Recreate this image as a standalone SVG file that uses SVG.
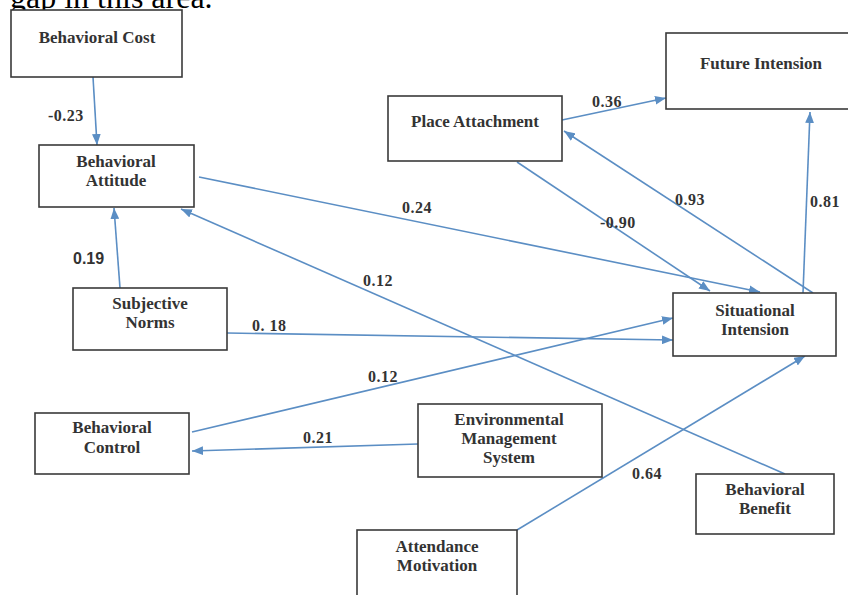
<svg xmlns="http://www.w3.org/2000/svg" width="848" height="595" viewBox="0 0 848 595">
<defs>
<marker id="ah" viewBox="0 0 10 8" refX="10" refY="4" markerWidth="11" markerHeight="9" markerUnits="userSpaceOnUse" orient="auto">
<path d="M0,0 L10,4 L0,8 z" fill="#5b8ec4"/>
</marker>
<style>
.box{fill:#fff;stroke:#3a3a3a;stroke-width:1.6}
.nt{font-family:"Liberation Serif","Times New Roman",serif;font-size:17px;font-weight:bold;fill:#333;text-anchor:middle}
.lb{font-family:"Liberation Serif","Times New Roman",serif;font-size:16px;font-weight:bold;fill:#333;letter-spacing:0.5px}
.lbs{font-family:"Liberation Sans",Arial,sans-serif;font-size:16px;font-weight:bold;fill:#333}
.cn path{fill:none;stroke:#5b8ec4;stroke-width:1.6;marker-end:url(#ah)}
</style>
</defs>
<rect width="848" height="595" fill="#fff"/>
<text x="10" y="8" font-family="Liberation Serif, Times New Roman, serif" font-size="32" fill="#000">gap in this area.</text>

<g id="connectors" class="cn">
<path d="M93,77 L97,145"/>
<path d="M120,288 L114,208"/>
<path d="M199,177 L760,292"/>
<path d="M785,474 L181,209"/>
<path d="M227,333 L673,340"/>
<path d="M192,432 L673,318"/>
<path d="M418,444 L192,451"/>
<path d="M517,530 L805,356"/>
<path d="M562,120 L666,98"/>
<path d="M517,162 L710,291"/>
<path d="M813,293 L564,131"/>
<path d="M803,293 L810,112"/>
</g>

<g id="labels">
<text class="lb" x="48" y="121">-0.23</text>
<text class="lbs" x="73" y="264">0.19</text>
<text class="lb" x="402" y="213">0.24</text>
<text class="lb" x="363" y="286">0.12</text>
<text class="lb" x="252" y="331">0. 18</text>
<text class="lb" x="368" y="382">0.12</text>
<text class="lb" x="303" y="443">0.21</text>
<text class="lb" x="632" y="479">0.64</text>
<text class="lb" x="592" y="107">0.36</text>
<text class="lb" x="600" y="228">-0.90</text>
<text class="lb" x="675" y="205">0.93</text>
<text class="lb" x="810" y="207">0.81</text>
</g>

<g id="behavioral-cost">
<rect class="box" x="11" y="10" width="171" height="67"/>
<text class="nt" x="97" y="43">Behavioral Cost</text>
</g>
<g id="behavioral-attitude">
<rect class="box" x="39" y="145" width="155" height="62"/>
<text class="nt" x="116" y="167">Behavioral</text>
<text class="nt" x="116" y="186">Attitude</text>
</g>
<g id="subjective-norms">
<rect class="box" x="73" y="288" width="154" height="62"/>
<text class="nt" x="150" y="309">Subjective</text>
<text class="nt" x="150" y="328">Norms</text>
</g>
<g id="behavioral-control">
<rect class="box" x="35" y="413" width="154" height="61"/>
<text class="nt" x="112" y="433">Behavioral</text>
<text class="nt" x="112" y="453">Control</text>
</g>
<g id="environmental-management-system">
<rect class="box" x="418" y="404" width="184" height="73"/>
<text class="nt" x="509" y="425">Environmental</text>
<text class="nt" x="509" y="444">Management</text>
<text class="nt" x="509" y="463">System</text>
</g>
<g id="attendance-motivation">
<rect class="box" x="357" y="530" width="160" height="75"/>
<text class="nt" x="437" y="552">Attendance</text>
<text class="nt" x="437" y="571">Motivation</text>
</g>
<g id="behavioral-benefit">
<rect class="box" x="696" y="474" width="138" height="60"/>
<text class="nt" x="765" y="495">Behavioral</text>
<text class="nt" x="765" y="514">Benefit</text>
</g>
<g id="situational-intension">
<rect class="box" x="673" y="293" width="163" height="63"/>
<text class="nt" x="755" y="316">Situational</text>
<text class="nt" x="755" y="335">Intension</text>
</g>
<g id="place-attachment">
<rect class="box" x="388" y="96" width="174" height="65"/>
<text class="nt" x="475" y="127">Place Attachment</text>
</g>
<g id="future-intension">
<rect class="box" x="666" y="33" width="190" height="76"/>
<text class="nt" x="761" y="69">Future Intension</text>
</g>
</svg>
